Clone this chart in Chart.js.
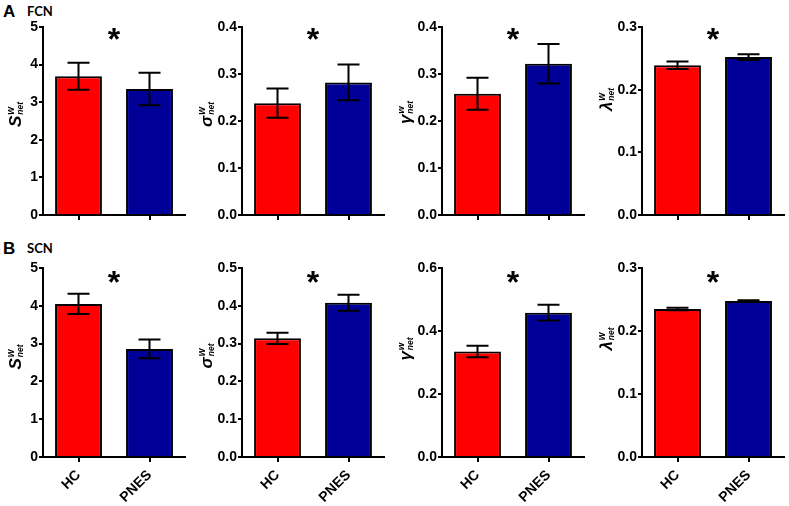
<!DOCTYPE html>
<html>
<head>
<meta charset="utf-8">
<script src="https://cdn.jsdelivr.net/npm/chart.js@4.4.1/dist/chart.umd.min.js"></script>
<style>
  html, body { margin:0; padding:0; background:#fff; }
  #wrap { position:relative; width:789px; height:506px; overflow:hidden; }
  canvas { position:absolute; }
  .panel-label { position:absolute; font-family:"Liberation Sans", Arial, sans-serif; font-weight:bold; color:#000; }
  .net-label { position:absolute; font-family:Lato, "Open Sans", sans-serif; font-weight:bold; color:#000; }
</style>
</head>
<body>
<div id="wrap">
  <div class="panel-label" style="left:3px; top:2px; font-size:17px;">A</div>
  <div class="net-label" style="left:27px; top:3px; font-size:13px;">FCN</div>
  <div class="panel-label" style="left:3px; top:239px; font-size:17px;">B</div>
  <div class="net-label" style="left:27px; top:240px; font-size:13px;">SCN</div>
</div>
<script>
// ---- data ----
const groups = ['HC', 'PNES'];
const metricSymbols = ['S', 'σ', 'γ', 'λ'];

// FCN (row A)
const fcnHC       = [3.69, 0.238, 0.258, 0.239];
const fcnHCErr    = [0.36, 0.031, 0.034, 0.006];
const fcnPNES     = [3.35, 0.282, 0.322, 0.252];
const fcnPNESErr  = [0.43, 0.038, 0.042, 0.0047];
const fcnYMax     = [5, 0.4, 0.4, 0.3];
const fcnYStep    = [1, 0.1, 0.1, 0.1];

// SCN (row B)
const scnHC       = [4.05, 0.314, 0.335, 0.235];
const scnHCErr    = [0.27, 0.015, 0.018, 0.002];
const scnPNES     = [2.86, 0.408, 0.458, 0.2475];
const scnPNESErr  = [0.25, 0.021, 0.025, 0.0012];
const scnYMax     = [5, 0.5, 0.6, 0.3];
const scnYStep    = [1, 0.1, 0.2, 0.1];
const tickDecimals = [0, 1, 1, 1];

const significance = '*';

// ---- layout / style ----
const colLeft = [0, 199, 399, 599];
const yAxisW = 43, plotW = 142, padR = 4;
const titleBaseX = [21, 13, 12, 13];
const titleDyTop = [-6.5, -6.5, -8.5, -21.5];
const titleDyBot = [-5.5, -6.5, -13.5, -23.5];
const colors = ['#ff0000', '#000099'];
const FONT = '"Liberation Sans", Arial, sans-serif';

const errorBars = {
  id: 'errorBars',
  afterDatasetsDraw(chart) {
    const ctx = chart.ctx;
    const ds = chart.data.datasets[0];
    const meta = chart.getDatasetMeta(0);
    const ys = chart.scales.y;
    ctx.save();
    ctx.strokeStyle = '#000';
    ctx.lineWidth = 2;
    meta.data.forEach((bar, i) => {
      const m = ds.data[i], e = ds.errors[i];
      const yt = ys.getPixelForValue(m + e);
      const yb = ys.getPixelForValue(m - e);
      const hw = bar.width * 0.235;
      ctx.beginPath();
      ctx.moveTo(bar.x, yt); ctx.lineTo(bar.x, yb);
      ctx.moveTo(bar.x - hw, yt); ctx.lineTo(bar.x + hw, yt);
      ctx.moveTo(bar.x - hw, yb); ctx.lineTo(bar.x + hw, yb);
      ctx.stroke();
    });
    ctx.restore();
  }
};

const decorations = {
  id: 'decorations',
  afterDraw(chart, args, opts) {
    const ctx = chart.ctx;
    const ca = chart.chartArea;
    ctx.save();
    // significance asterisk
    ctx.fillStyle = '#000';
    ctx.font = 'bold 32px ' + FONT;
    const tm = ctx.measureText(opts.star);
    const cx = (ca.left + ca.right) / 2;
    const cy = ca.top + opts.starDy;
    ctx.textAlign = 'center';
    ctx.textBaseline = 'alphabetic';
    ctx.fillText(opts.star, cx, cy + (tm.actualBoundingBoxAscent - tm.actualBoundingBoxDescent) / 2);

    // y axis title: symbol with superscript w and subscript net
    const midY = (ca.top + ca.bottom) / 2 + opts.titleDy;
    ctx.translate(opts.titleX, midY);
    ctx.rotate(-Math.PI / 2);
    const fMain = 'italic bold 17px ' + FONT;
    const fSup = 'italic bold 10px ' + FONT;
    const fSub = 'italic bold 8.5px ' + FONT;
    ctx.font = fMain; const wMain = ctx.measureText(opts.symbol).width;
    ctx.font = fSup;  const wSup = ctx.measureText('w').width;
    ctx.font = fSub;  const wSub = ctx.measureText('net').width;
    const total = wMain + 1 + Math.max(wSup, wSub);
    let x0 = -total / 2;
    ctx.textAlign = 'left';
    ctx.font = fMain; ctx.fillText(opts.symbol, x0, 0);
    ctx.font = fSup;  ctx.fillText('w', x0 + wMain + 1, -7.5);
    ctx.font = fSub;  ctx.fillText('net', x0 + wMain + 1, 2);
    ctx.restore();
  }
};

function makePanel(row, col) {
  const isTop = row === 0;
  const hc = isTop ? fcnHC : scnHC;
  const hcE = isTop ? fcnHCErr : scnHCErr;
  const pn = isTop ? fcnPNES : scnPNES;
  const pnE = isTop ? fcnPNESErr : scnPNESErr;
  const yMax = isTop ? fcnYMax : scnYMax;
  const yStep = isTop ? fcnYStep : scnYStep;

  const top = isTop ? 0 : 240;
  const height = isTop ? 230 : 266;
  const padTop = isTop ? 27 : 28;
  const xAxisH = isTop ? 15 : 49;

  const cv = document.createElement('canvas');
  cv.style.left = colLeft[col] + 'px';
  cv.style.top = top + 'px';
  cv.style.width = (yAxisW + plotW + padR) + 'px';
  cv.style.height = height + 'px';
  cv.width = yAxisW + plotW + padR;
  cv.height = height;
  document.getElementById('wrap').appendChild(cv);

  new Chart(cv, {
    type: 'bar',
    data: {
      labels: groups,
      datasets: [{
        data: [hc[col], pn[col]],
        errors: [hcE[col], pnE[col]],
        backgroundColor: colors,
        borderColor: '#000',
        borderWidth: 2,
        borderSkipped: 'start',
        barPercentage: 0.66,
        categoryPercentage: 1.0
      }]
    },
    options: {
      responsive: false,
      animation: false,
      devicePixelRatio: 1,
      layout: { padding: { top: padTop, left: 0, right: padR, bottom: 0 } },
      plugins: {
        legend: { display: false },
        tooltip: { enabled: false },
        decorations: {
          star: significance,
          starDy: isTop ? 6.5 : 8.5,
          symbol: metricSymbols[col],
          titleX: titleBaseX[col],
          titleDy: isTop ? titleDyTop[col] : titleDyBot[col]
        }
      },
      scales: {
        x: {
          grid: { display: true, drawOnChartArea: false, drawTicks: true, tickLength: 5, color: '#000', lineWidth: 2, offset: false },
          border: { display: true, color: '#000', width: 2 },
          ticks: {
            display: !isTop,
            color: '#000',
            font: { family: FONT, size: 14, weight: 'bold' },
            minRotation: 45, maxRotation: 45,
            padding: 5
          },
          afterFit(scale) { scale.height = xAxisH; }
        },
        y: {
          min: 0, max: yMax[col],
          grid: { display: true, drawOnChartArea: false, drawTicks: true, tickLength: 4, color: '#000', lineWidth: 2 },
          border: { display: true, color: '#000', width: 2 },
          ticks: {
            stepSize: yStep[col],
            color: '#000',
            padding: 1,
            font: { family: FONT, size: 14, weight: 'bold' },
            callback: (v) => Number(v).toFixed(tickDecimals[col])
          },
          afterFit(scale) { scale.width = yAxisW; }
        }
      }
    },
    plugins: [errorBars, decorations]
  });
}

for (let r = 0; r < 2; r++) for (let c = 0; c < 4; c++) makePanel(r, c);
</script>
</body>
</html>
